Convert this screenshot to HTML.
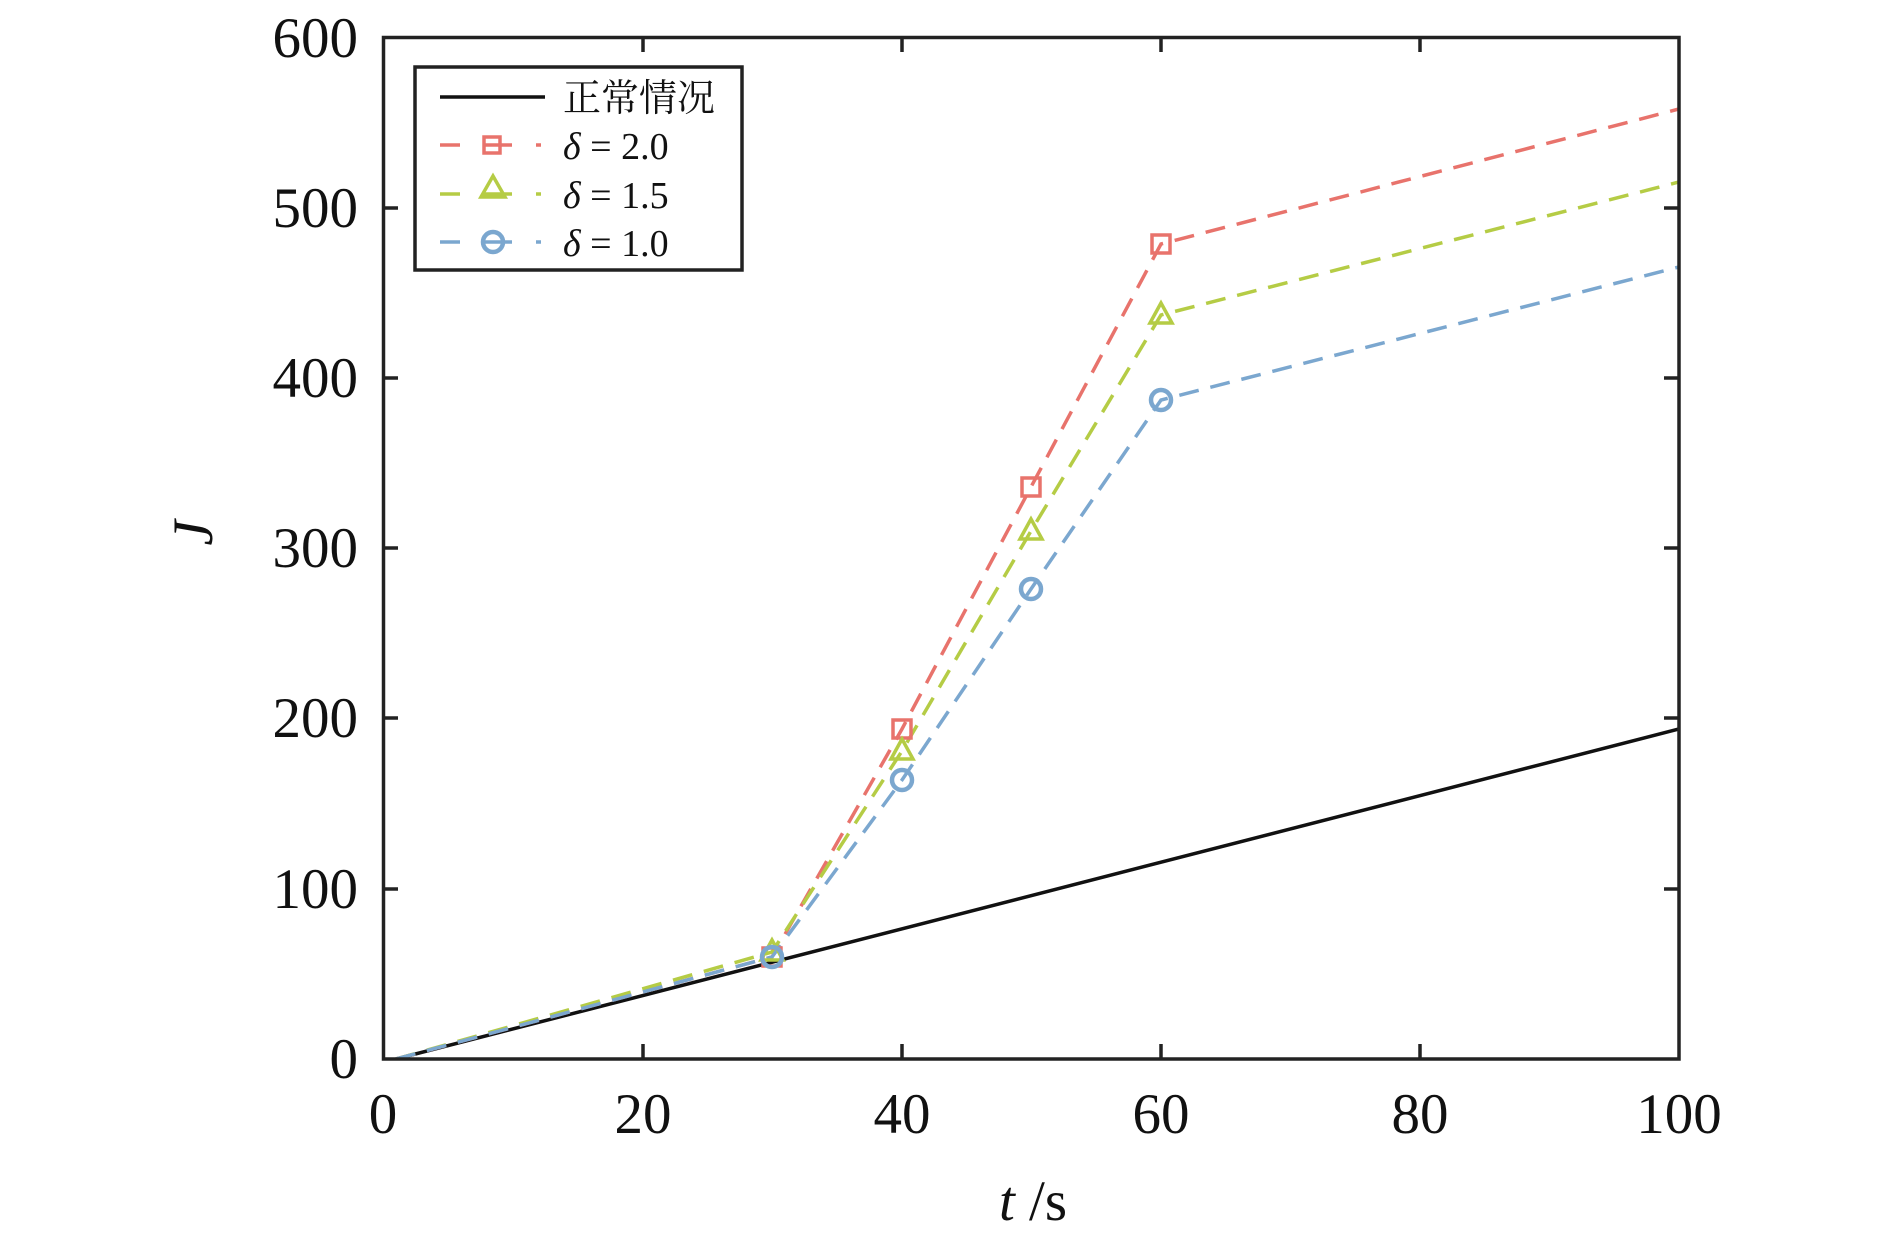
<!DOCTYPE html>
<html><head><meta charset="utf-8"><style>
html,body{margin:0;padding:0;background:#fff;}
text{font-family:"Liberation Serif","Noto Serif CJK SC",serif;fill:#111;}
</style></head><body>
<svg width="1890" height="1237" viewBox="0 0 1890 1237" xmlns="http://www.w3.org/2000/svg">
<defs><clipPath id="c"><rect x="383" y="37" width="1296" height="1022"/></clipPath></defs>
<g clip-path="url(#c)" fill="none" stroke-width="3.5">
<polyline stroke="#111" points="396,1059 1679,729"/>
<polyline stroke="#e8736c" stroke-dasharray="20,12" points="396,1059 772,957 902,729 1031,487 1161,244 1679,109"/>
<polyline stroke="#b5cc45" stroke-dasharray="20,12" points="396,1059 772,952 902,751 1031,531 1161,315 1679,182"/>
<polyline stroke="#7ba7cf" stroke-dasharray="20,12" points="396,1059 772,957 902,780 1031,589 1161,400 1679,267"/>
</g>
<g fill="none" stroke-width="3.5">
<rect x="763" y="948" width="18" height="18" stroke="#e8736c"/>
<rect x="893" y="720" width="18" height="18" stroke="#e8736c"/>
<rect x="1022" y="478" width="18" height="18" stroke="#e8736c"/>
<rect x="1152" y="235" width="18" height="18" stroke="#e8736c"/>
<polygon points="772,940 761,960 783,960" stroke="#b5cc45"/>
<polygon points="902,739 891,759 913,759" stroke="#b5cc45"/>
<polygon points="1031,519 1020,539 1042,539" stroke="#b5cc45"/>
<polygon points="1161,303 1150,323 1172,323" stroke="#b5cc45"/>
<circle cx="772" cy="957" r="10" stroke="#7ba7cf" stroke-width="4.5"/>
<circle cx="902" cy="780" r="10" stroke="#7ba7cf" stroke-width="4.5"/>
<circle cx="1031" cy="589" r="10" stroke="#7ba7cf" stroke-width="4.5"/>
<circle cx="1161" cy="400" r="10" stroke="#7ba7cf" stroke-width="4.5"/>
</g>
<g stroke="#222" stroke-width="3.5" fill="none">
<rect x="383.5" y="37.5" width="1295.5" height="1021.5"/>
<path d="M643,1059v-15M902,1059v-15M1161,1059v-15M1420,1059v-15M643,37v15M902,37v15M1161,37v15M1420,37v15
M383,889h15M383,718h15M383,548h15M383,378h15M383,208h15M1679,889h-15M1679,718h-15M1679,548h-15M1679,378h-15M1679,208h-15"/>
</g>
<g font-size="57" text-anchor="end">
<text x="358" y="1078">0</text><text x="358" y="908">100</text><text x="358" y="737">200</text>
<text x="358" y="567">300</text><text x="358" y="397">400</text><text x="358" y="227">500</text><text x="358" y="57">600</text>
</g>
<g font-size="57" text-anchor="middle">
<text x="383" y="1133">0</text><text x="643" y="1133">20</text><text x="902" y="1133">40</text>
<text x="1161" y="1133">60</text><text x="1420" y="1133">80</text><text x="1679" y="1133">100</text>
<text x="1033" y="1220"><tspan font-style="italic">t</tspan> /s</text>
<text transform="translate(212,533) rotate(-90)" font-style="italic">J</text>
</g>
<rect x="415" y="67" width="327" height="203" fill="#fff" stroke="#222" stroke-width="3.5"/>
<g stroke-width="3.5" fill="none">
<line x1="440" y1="97" x2="545" y2="97" stroke="#111"/>
<path d="M440,145h20M484,145h28M536,145h5" stroke="#e8736c"/>
<rect x="484" y="137" width="16" height="16" stroke="#e8736c"/>
<path d="M440,194h20M484,194h28M536,194h5" stroke="#b5cc45"/>
<polygon points="493,176 481,197 505,197" stroke="#b5cc45"/>
<path d="M440,242h20M484,242h28M536,242h5" stroke="#7ba7cf"/>
<circle cx="493" cy="242" r="10" stroke="#7ba7cf" stroke-width="4.5"/>
</g>
<g font-size="38">
<text x="563" y="111">正常情况</text>
<text x="563" y="159"><tspan font-style="italic">δ</tspan> = 2.0</text>
<text x="563" y="208"><tspan font-style="italic">δ</tspan> = 1.5</text>
<text x="563" y="256"><tspan font-style="italic">δ</tspan> = 1.0</text>
</g>
</svg>
</body></html>
